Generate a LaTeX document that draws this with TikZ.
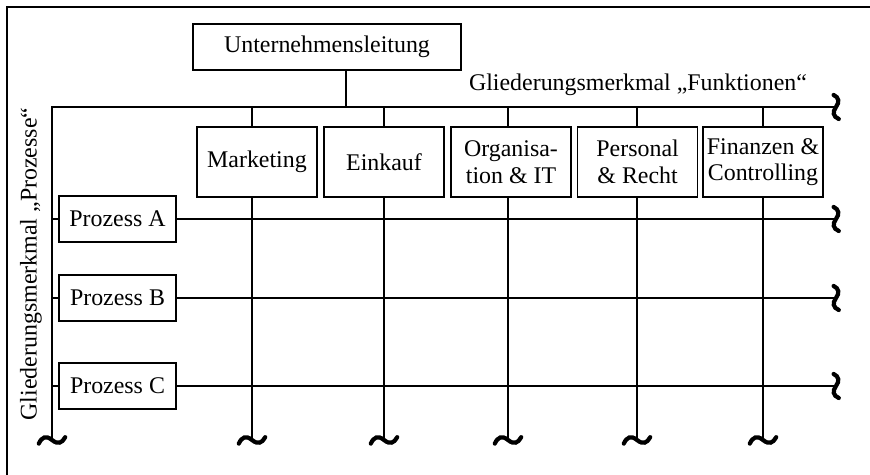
\documentclass[tikz,border=0pt]{standalone}
\usepackage{fontspec}
\setmainfont{Liberation Serif}
\usetikzlibrary{positioning,calc}

% Abbruchzeichen (Tilde) am Linienende
\newcommand{\wavedown}[1]{%
  \draw[wave, shift={(#1)}] (-0.33,-0.09) .. controls (-0.25,0.08) and (-0.15,0.12) .. (0,0)
    .. controls (0.15,-0.12) and (0.25,-0.08) .. (0.33,0.07);}
\newcommand{\waveright}[1]{%
  \draw[wave, shift={(#1)}] (-0.06,0.3) .. controls (0.08,0.24) and (0.09,0.12) .. (0,0)
    .. controls (-0.09,-0.12) and (-0.08,-0.24) .. (0.07,-0.3);}

\begin{document}
\begin{tikzpicture}[
    font=\fontsize{17}{19}\selectfont,
    line width=0.8pt,
    orgbox/.style={draw, fill=white, line width=0.8pt, align=center, inner sep=2pt},
    funcbox/.style={orgbox, minimum width=3.0cm, minimum height=1.75cm},
    procbox/.style={orgbox, minimum width=2.925cm, minimum height=1.15cm},
    wave/.style={line width=3pt, line cap=round}
]

  % Rahmen
  \useasboundingbox (0,0) rectangle (21.75,-11.875);
  \draw (0.175,-11.875) -- (0.175,-0.175) -- (21.75,-0.175);

  % =========================================================================
  % LEITUNG UND FUNKTIONEN
  % =========================================================================
  \node[orgbox, minimum width=6.7cm, minimum height=1.15cm] (ul) at (8.175,-1.175) {Unternehmensleitung};
  \coordinate (corner) at (1.3,-2.675);
  \coordinate (stem) at (8.65,-2.675);
  \coordinate (w_bus) at (20.9,-2.675);

  \node (lbl_func) at (15.95,-2.125) {Gliederungsmerkmal „Funktionen“};
  \node[rotate=90] (lbl_proc) at (0.775,-6.6) {Gliederungsmerkmal „Prozesse“};

  % untere Enden der Linien
  \coordinate (w_left) at (1.3,-11.0);
  \coordinate (w_mk)   at (6.3,-11.0);
  \coordinate (w_ek)   at (9.6,-11.0);
  \coordinate (w_org)  at (12.7,-11.0);
  \coordinate (w_pers) at (15.925,-11.0);
  \coordinate (w_fin)  at (19.075,-11.0);

  % rechte Enden der Prozesslinien
  \coordinate (w_a) at (20.9,-5.475);
  \coordinate (w_b) at (20.9,-7.45);
  \coordinate (w_c) at (20.9,-9.65);

  \draw (ul.south -| stem) -- (stem);
  \draw (w_left) -- (corner) -- (w_bus);
  \foreach \w in {w_mk, w_ek, w_org, w_pers, w_fin}
    \draw (corner -| \w) -- (\w);
  \foreach \w in {w_a, w_b, w_c}
    \draw (corner |- \w) -- (\w);

  \foreach \w in {w_left, w_mk, w_ek, w_org, w_pers, w_fin}
    \wavedown{\w};
  \foreach \w in {w_bus, w_a, w_b, w_c}
    \waveright{\w};

  \node[funcbox] (mk)   at (6.425,-4.05) {Marketing};
  \node[funcbox] (ek)   at (9.6,-4.05) {Einkauf};
  \node[funcbox] (org)  at (12.775,-4.05) {Organisa-\\tion \& IT};
  \node[funcbox] (pers) at (15.94,-4.05) {Personal\\\& Recht};
  \node[funcbox] (fin)  at (19.075,-4.05) {Finanzen \&\\Controlling};

  % =========================================================================
  % PROZESSE
  % =========================================================================
  \node[procbox] (pa) at (2.9375,-5.475) {Prozess A};
  \node[procbox] (pb) at (2.9375,-7.45) {Prozess B};
  \node[procbox] (pc) at (2.9375,-9.65) {Prozess C};

\end{tikzpicture}
\end{document}
